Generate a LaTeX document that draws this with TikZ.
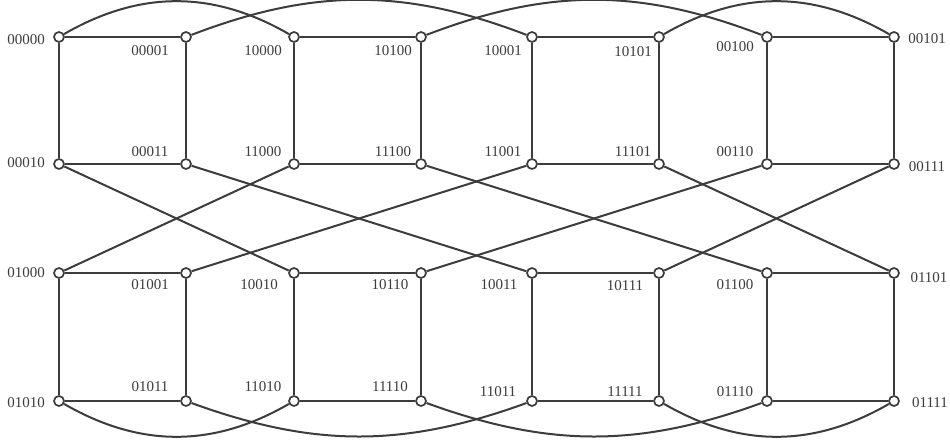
\documentclass[tikz,border=0pt]{standalone}
\usepackage{fontspec}
\setmainfont{Liberation Serif}
\usepackage{xcolor}
\definecolor{ink}{HTML}{3C3C3C}

\begin{document}
\begin{tikzpicture}[x=1pt,y=-1pt,
  vtx/.style={circle,draw=ink,fill=white,line width=1.7pt,minimum size=10pt,inner sep=0pt},
  lbl/.style={text=ink,font=\fontsize{15}{18}\selectfont,inner sep=0pt},
  wire/.style={draw=ink,line width=2pt}]
\useasboundingbox (0,0) rectangle (950,443);
% vertices and their labels
\foreach \nm/\x/\y/\lx/\ly in {
  00000/59/37/26/40, 00001/186/37/150/51, 10000/294/37/263/51, 10100/421/37/393/51,
  10001/532/37/503/51, 10101/659/37/633/52, 00100/767/37/735/47, 00101/894/37/927/39,
  00010/59/164/26/163, 00011/186/164/150/152, 11000/294/164/263/152, 11100/421/164/393/152,
  11001/532/164/503/152, 11101/659/164/633/152, 00110/767/164/735/152, 00111/894/164/927/167,
  01000/59/273/26/273, 01001/186/273/150/285, 10010/294/273/259/285, 10110/421/273/390/285,
  10011/532/273/499/285, 10111/659/273/625/286, 01100/767/273/735/285, 01101/894/273/929/278,
  01010/59/401/26/403, 01011/186/401/150/387, 11010/294/401/263/387, 11110/421/401/390/387,
  11011/532/401/498/392, 11111/659/401/625/392, 01110/767/401/735/392, 01111/894/401/930/403}
{
  \node[vtx] (v\nm) at (\x,\y) {};
  \node[lbl] (t\nm) at (\lx,\ly) {\nm};
}
% straight edges
\foreach \a/\b in {
  00000/00001, 10000/10100, 10001/10101, 00100/00101,
  00010/00011, 11000/11100, 11001/11101, 00110/00111,
  01000/01001, 10010/10110, 10011/10111, 01100/01101,
  01010/01011, 11010/11110, 11011/11111, 01110/01111,
  00000/00010, 00001/00011, 10000/11000, 10100/11100,
  10001/11001, 10101/11101, 00100/00110, 00101/00111,
  01000/01010, 01001/01011, 10010/11010, 10110/11110,
  10011/11011, 10111/11111, 01100/01110, 01101/01111,
  00010/10010, 11000/01000, 00011/10011, 11001/01001,
  11100/01100, 00110/10110, 11101/01101, 00111/10111}
  \draw[wire] (v\a) -- (v\b);
% arcs over the top and under the bottom
\foreach \a/\b/\t in {00000/10000/30, 00001/10001/21, 10100/00100/21, 10101/00101/30}
  \draw[wire] (v\a) to[bend left=\t] (v\b);
\foreach \a/\b/\t in {01010/11010/30, 01011/11011/20, 11110/01110/20, 11111/01111/30}
  \draw[wire] (v\a) to[bend right=\t] (v\b);
\end{tikzpicture}
\end{document}
